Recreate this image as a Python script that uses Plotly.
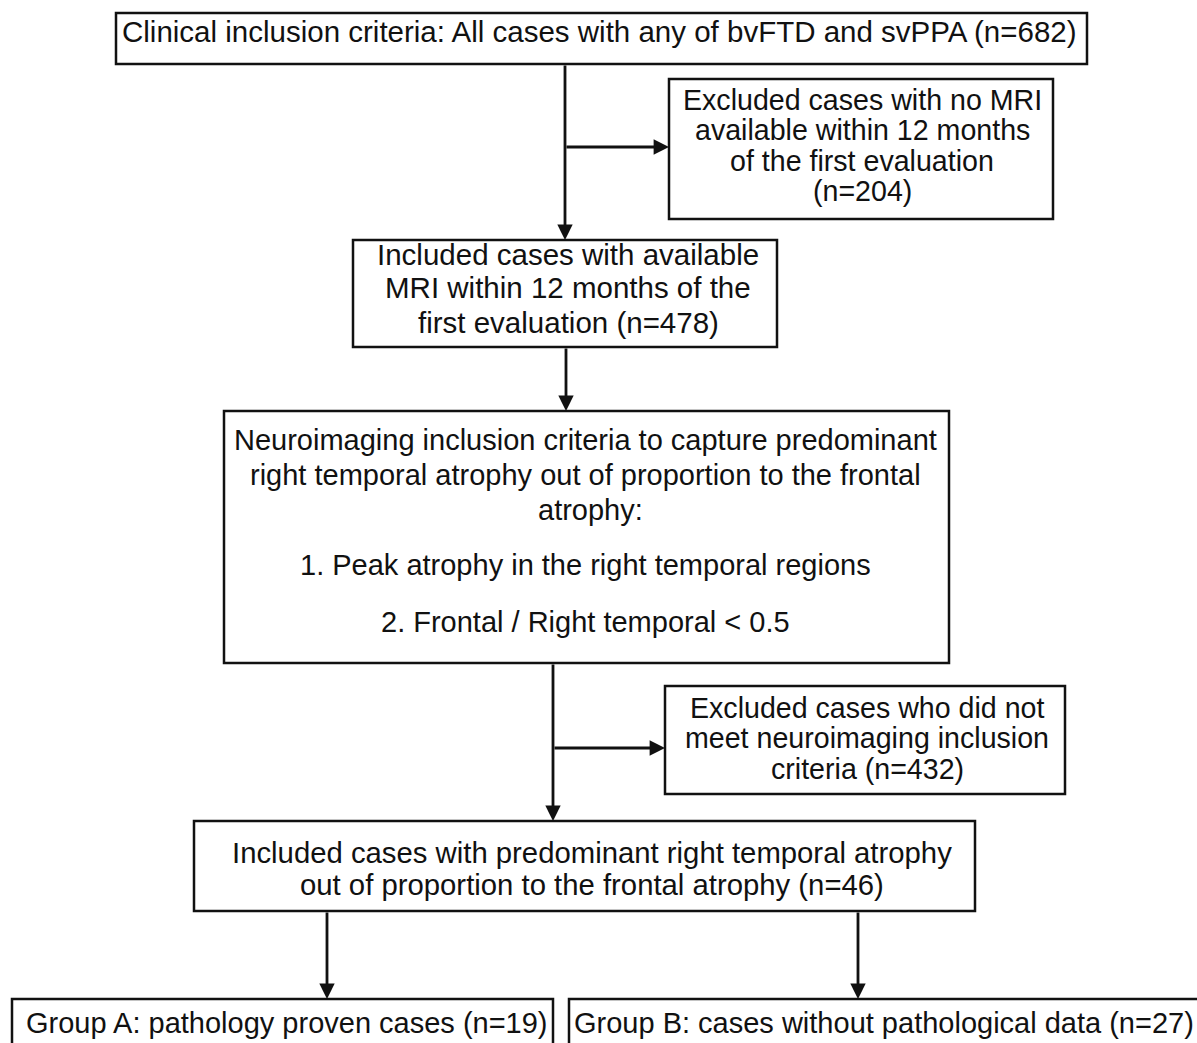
import plotly.graph_objects as go

# ---------------- data ----------------
stage_counts = [682, 204, 478, 432, 46, 19, 27]
criteria_items = ["1. Peak atrophy in the right temporal regions",
                  "2. Frontal / Right temporal < 0.5"]

box_lines = [
    [f"Clinical inclusion criteria: All cases with any of bvFTD and svPPA (n={stage_counts[0]})"],
    ["Excluded cases with no MRI", "available within 12 months", "of the first evaluation",
     f"(n={stage_counts[1]})"],
    ["Included cases with available", "MRI within 12 months of the",
     f"first evaluation (n={stage_counts[2]})"],
    ["Neuroimaging inclusion criteria to capture predominant",
     "right temporal atrophy out of proportion to the frontal", "atrophy:"] + criteria_items,
    ["Excluded cases who did not", "meet neuroimaging inclusion",
     f"criteria (n={stage_counts[3]})"],
    ["Included cases with predominant right temporal atrophy",
     f"out of proportion to the frontal atrophy (n={stage_counts[4]})"],
    [f"Group A: pathology proven cases (n={stage_counts[5]})"],
    [f"Group B: cases without pathological data (n={stage_counts[6]})"],
]

# ---------------- layout geometry ----------------
W, H = 1197, 1043
box_rects = [
    (116, 13, 1087, 64),
    (669, 79, 1053, 219),
    (353, 240, 777, 347),
    (224, 411, 949, 663),
    (665, 686, 1065, 794),
    (194, 821, 975, 911),
    (12, 999, 553, 1070),
    (569, 999, 1230, 1070),
]
line_cx = [
    [599],
    [862] * 4,
    [568] * 3,
    [585, 585, 590, 585, 585],
    [867] * 3,
    [592, 592],
    [287],
    [883.5],
]
line_baselines = [
    [42],
    [110, 140.5, 171, 201.5],
    [265, 298, 333],
    [450, 485, 520, 575, 632],
    [718, 748.5, 779],
    [863, 895],
    [1033],
    [1033],
]
font_sizes = [29.5, 28.6, 29.5, 29, 28.6, 29.3, 29, 29]
arrows = [  # (tail_x, tail_y, tip_x, tip_y)
    (565, 64, 565, 240),
    (565, 147, 669, 147),
    (566, 347, 566, 411),
    (553, 663, 553, 821),
    (553, 748, 665, 748),
    (327, 911, 327, 999),
    (858, 911, 858, 999),
]

FONT = "Liberation Sans, Arial, sans-serif"
INK = "#111111"

fig = go.Figure()
shapes = []
annotations = []

for (x0, y0, x1, y1) in box_rects:
    shapes.append(dict(type="rect", xref="x", yref="y", x0=x0, y0=y0, x1=x1, y1=y1,
                       line=dict(color=INK, width=2.5), fillcolor="white", layer="below"))

for lines, cxs, bls, fs in zip(box_lines, line_cx, line_baselines, font_sizes):
    for txt, cx, bl in zip(lines, cxs, bls):
        annotations.append(dict(
            x=cx, y=bl - 0.35 * fs, xref="x", yref="y", text=txt, showarrow=False,
            xanchor="center", yanchor="middle",
            font=dict(family=FONT, size=fs, color=INK)))

for (tx, ty, hx, hy) in arrows:
    annotations.append(dict(
        x=hx, y=hy, ax=tx, ay=ty, xref="x", yref="y", axref="x", ayref="y",
        text="", showarrow=True, arrowhead=2, arrowsize=1.1, arrowwidth=2.8,
        arrowcolor=INK, standoff=0, startstandoff=0))

fig.update_layout(
    width=W, height=H,
    margin=dict(l=0, r=0, t=0, b=0),
    paper_bgcolor="white", plot_bgcolor="white",
    xaxis=dict(range=[0, W], visible=False, fixedrange=True),
    yaxis=dict(range=[H, 0], visible=False, fixedrange=True),
    shapes=shapes, annotations=annotations, showlegend=False,
)

fig.write_html(
    "out.html",
    config={"displayModeBar": False},
    post_script="document.body.style.margin='0px';document.body.style.overflow='hidden';",
)
